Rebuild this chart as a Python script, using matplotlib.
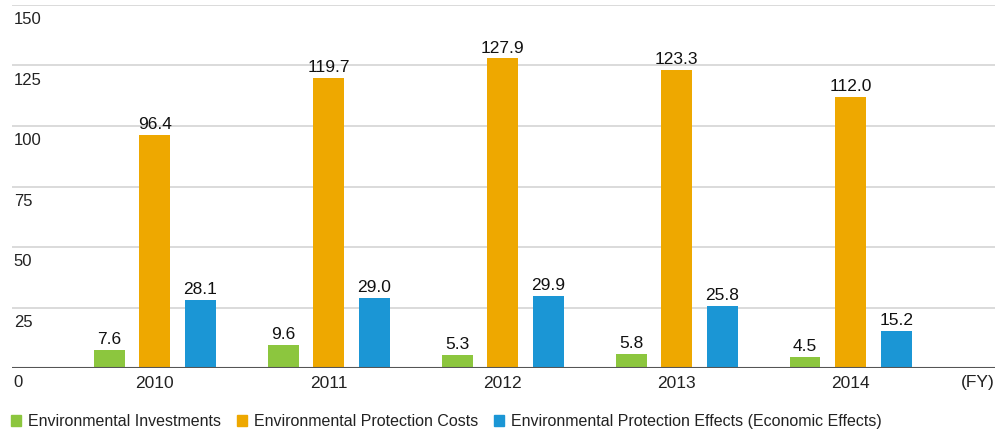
import numpy as np
import matplotlib.pyplot as plt
from matplotlib.patches import Patch

years = ["2010", "2011", "2012", "2013", "2014"]
investments = [7.6, 9.6, 5.3, 5.8, 4.5]
protection_costs = [96.4, 119.7, 127.9, 123.3, 112.0]
protection_effects = [28.1, 29.0, 29.9, 25.8, 15.2]
series_names = ["Environmental Investments", "Environmental Protection Costs",
                "Environmental Protection Effects (Economic Effects)"]
yticks = [0, 25, 50, 75, 100, 125, 150]

colors = ["#8cc63e", "#eea800", "#1b96d5"]
plt.rcParams['font.family'] = ['Liberation Sans', 'DejaVu Sans']

fig = plt.figure(figsize=(10.08, 4.34), dpi=100)
ax = fig.add_axes([0.0119, 0.152, 0.9752, 0.8365])

x = np.arange(len(years))
w = 0.178
off = 0.262
for i, vals in enumerate([investments, protection_costs, protection_effects]):
    pos = x + (i - 1) * off
    ax.bar(pos, vals, width=w, color=colors[i], zorder=3)
    for p, v in zip(pos, vals):
        ax.text(p, v + 1.2, "%.1f" % v, ha="center", va="bottom",
                fontsize=12.5, color="#111111", zorder=4)

ax.set_xlim(-0.82, 4.83)
ax.set_ylim(0, 150)
for t in yticks[1:]:
    ax.axhline(t, color="#d4d4d4", lw=1.2, zorder=1)
ax.axhline(0, color="#555555", lw=1.5, zorder=5)
for t in yticks:
    ax.text(-0.81, t - 3, str(t), ha="left", va="top", fontsize=12, color="#222222")

for s in ax.spines.values():
    s.set_visible(False)
ax.set_yticks([])
ax.set_xticks(x)
ax.set_xticklabels(years, fontsize=12.5, color="#222222")
ax.tick_params(axis="x", length=0, pad=6)
ax.text(1.0, -0.018, "(FY)", transform=ax.transAxes, ha="right", va="top",
        fontsize=12.5, color="#222222")

handles = [Patch(color=c) for c in colors]
fig.legend(handles, series_names, loc="center left", bbox_to_anchor=(0.011, 0.028),
           ncol=3, frameon=False, fontsize=11.5, handlelength=0.65, handleheight=0.65,
           handletextpad=0.4, columnspacing=1.0, borderpad=0, borderaxespad=0,
           labelcolor="#222222")

fig.savefig("out.png", dpi=100)
